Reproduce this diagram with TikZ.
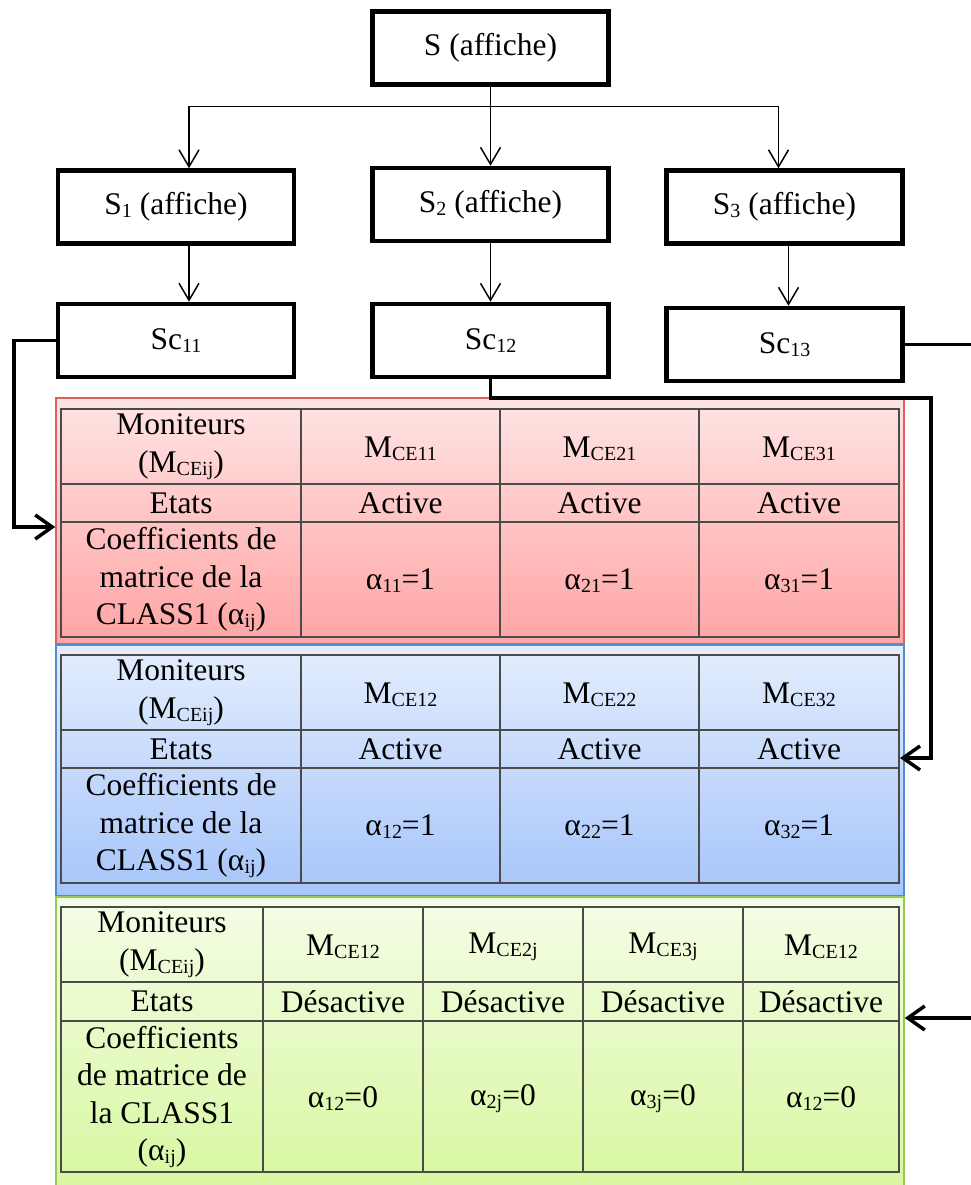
\documentclass[tikz,border=0pt]{standalone}
\usepackage{fontspec}
\setmainfont{Liberation Serif}
\usetikzlibrary{arrows.meta}

% lowered, smaller index text (subscripts as set in the word processor)
\newcommand{\lowsub}[1]{\raisebox{-3pt}{\fontsize{20}{20}\selectfont #1}}

\definecolor{redtop}{RGB}{255,228,228}
\definecolor{redbot}{RGB}{255,164,164}
\definecolor{redline}{RGB}{220,95,95}
\definecolor{bluetop}{RGB}{228,237,253}
\definecolor{bluebot}{RGB}{166,197,250}
\definecolor{blueline}{RGB}{85,140,205}
\definecolor{greentop}{RGB}{244,253,230}
\definecolor{greenbot}{RGB}{216,247,160}
\definecolor{greenline}{RGB}{150,200,85}
\definecolor{gridc}{RGB}{75,75,75}

\begin{document}
\begin{tikzpicture}[x=1pt,y=-1pt,
  box/.style={draw, line width=4.5pt, minimum width=236pt, minimum height=73pt,
              inner sep=0pt, font=\fontsize{31.5}{36}\selectfont},
  tarrow/.style={line width=1.5pt, -{Straight Barb[length=17pt,width=20pt]}},
  conn/.style={line width=3.5pt, -{Straight Barb[length=17pt,width=24pt]}},
  plainline/.style={line width=3.5pt},
  panel/.style={line width=1.5pt, minimum width=848pt, inner sep=0pt},
  tabframe/.style={draw=gridc, line width=2pt, minimum width=838pt, inner sep=0pt},
  gridline/.style={draw=gridc, line width=2pt},
  cell/.style={font=\fontsize{31.5}{37.5}\selectfont, align=center, inner sep=0pt},
]
\useasboundingbox (0,0) rectangle (971,1185);

% ---- hierarchy of screens ----
\node[box] (S)    at (490.5,48)    {S (affiche)};
\node[box] (S1)   at (176,207)     {S\lowsub{1} (affiche)};
\node[box] (S2)   at (490.5,204.5) {S\lowsub{2} (affiche)};
\node[box] (S3)   at (784.5,207)   {S\lowsub{3} (affiche)};
\node[box] (Sc11) at (176,340.5)   {Sc\lowsub{11}};
\node[box] (Sc12) at (490.5,340.5) {Sc\lowsub{12}};
\node[box] (Sc13) at (784.5,344.5) {Sc\lowsub{13}};

\path (S.south) ++(0,20) coordinate (jn);
\draw[tarrow] (S.south) -- (S2.north);
\draw[tarrow] (jn) -| ([xshift=13pt]S1.north);
\draw[tarrow] (jn) -| ([xshift=-6pt]S3.north);
\draw[tarrow] ([xshift=13pt]S1.south) -- ([xshift=13pt]Sc11.north);
\draw[tarrow] (S2.south) -- (Sc12.north);
\draw[tarrow] ([xshift=4pt]S3.south) -- ([xshift=4pt]Sc13.north);

% ---- shaded panels ----
\node[panel, draw=redline, top color=redtop, bottom color=redbot,
      minimum height=246pt] (redP) at (480,521) {};
\node[panel, draw=blueline, top color=bluetop, bottom color=bluebot,
      minimum height=251pt] (blueP) at (480,770.5) {};
\node[panel, draw=greenline, top color=greentop, bottom color=greenbot,
      minimum height=295pt] (greenP) at (480,1044.5) {};

% ---- table grids ----
\node[tabframe, minimum height=228pt] (tabR) at (480,523) {};
\draw[gridline] (61,484) -- (899,484) (61,522) -- (899,522)
  (301,409) -- (301,637) (500,409) -- (500,637) (699,409) -- (699,637);

\node[tabframe, minimum height=228pt] (tabB) at (480,769) {};
\draw[gridline] (61,730) -- (899,730) (61,768) -- (899,768)
  (301,655) -- (301,883) (500,655) -- (500,883) (699,655) -- (699,883);

\node[tabframe, minimum height=265pt] (tabG) at (480,1039.5) {};
\draw[gridline] (61,982) -- (899,982) (61,1021) -- (899,1021)
  (263,907) -- (263,1172) (423,907) -- (423,1172)
  (583,907) -- (583,1172) (743,907) -- (743,1172);

% ---- first table ----
\node[cell] (rM)  at (181,446.5) {Moniteurs\\(M\lowsub{CEij})};
\node[cell] (rM1) at (400.5,449) {M\lowsub{CE11}};
\node[cell] (rM2) at (599.5,449) {M\lowsub{CE21}};
\node[cell] (rM3) at (799,449)   {M\lowsub{CE31}};
\node[cell] (rE)  at (181,503)   {Etats};
\node[cell] (rE1) at (400.5,503) {Active};
\node[cell] (rE2) at (599.5,503) {Active};
\node[cell] (rE3) at (799,503)   {Active};
\node[cell] (rC)  at (181,580)   {Coefficients de\\matrice de la\\CLASS1 (α\lowsub{ij})};
\node[cell] (rC1) at (400.5,581) {α\lowsub{11}=1};
\node[cell] (rC2) at (599.5,581) {α\lowsub{21}=1};
\node[cell] (rC3) at (799,581)   {α\lowsub{31}=1};

% ---- second table ----
\node[cell] (bM)  at (181,692.5) {Moniteurs\\(M\lowsub{CEij})};
\node[cell] (bM1) at (400.5,695) {M\lowsub{CE12}};
\node[cell] (bM2) at (599.5,695) {M\lowsub{CE22}};
\node[cell] (bM3) at (799,695)   {M\lowsub{CE32}};
\node[cell] (bE)  at (181,749)   {Etats};
\node[cell] (bE1) at (400.5,749) {Active};
\node[cell] (bE2) at (599.5,749) {Active};
\node[cell] (bE3) at (799,749)   {Active};
\node[cell] (bC)  at (181,826)   {Coefficients de\\matrice de la\\CLASS1 (α\lowsub{ij})};
\node[cell] (bC1) at (400.5,827) {α\lowsub{12}=1};
\node[cell] (bC2) at (599.5,827) {α\lowsub{22}=1};
\node[cell] (bC3) at (799,827)   {α\lowsub{32}=1};

% ---- third table ----
\node[cell] (gM)  at (162,944.5) {Moniteurs\\(M\lowsub{CEij})};
\node[cell] (gM1) at (343,947)   {M\lowsub{CE12}};
\node[cell] (gM2) at (503,947)   {M\lowsub{CE2j}};
\node[cell] (gM3) at (663,947)   {M\lowsub{CE3j}};
\node[cell] (gM4) at (821,947)   {M\lowsub{CE12}};
\node[cell] (gE)  at (162,1001.5) {Etats};
\node[cell] (gE1) at (343,1001.5) {Désactive};
\node[cell] (gE2) at (503,1001.5) {Désactive};
\node[cell] (gE3) at (663,1001.5) {Désactive};
\node[cell] (gE4) at (821,1001.5) {Désactive};
\node[cell] (gC)  at (162,1097)  {Coefficients\\de matrice de\\la CLASS1\\(α\lowsub{ij})};
\node[cell] (gC1) at (343,1099)  {α\lowsub{12}=0};
\node[cell] (gC2) at (503,1099)  {α\lowsub{2j}=0};
\node[cell] (gC3) at (663,1099)  {α\lowsub{3j}=0};
\node[cell] (gC4) at (821,1099)  {α\lowsub{12}=0};

% ---- links from the sub-screens to the tables ----
\coordinate (lr) at (14,527);
\draw[conn] (Sc11.west) -| (lr) |- ([yshift=-6pt]redP.west);

\coordinate (rt) at (931,398);
\draw[conn] (Sc12.south) |- (rt) |- ([yshift=11pt]tabB.east);

\coordinate (eR) at (971,344.5);
\draw[plainline] (Sc13.east) -- (eR);

\coordinate (eG) at (971,1018);
\draw[conn] (eG) -- (eG -| greenP.east);

\end{tikzpicture}
\end{document}
